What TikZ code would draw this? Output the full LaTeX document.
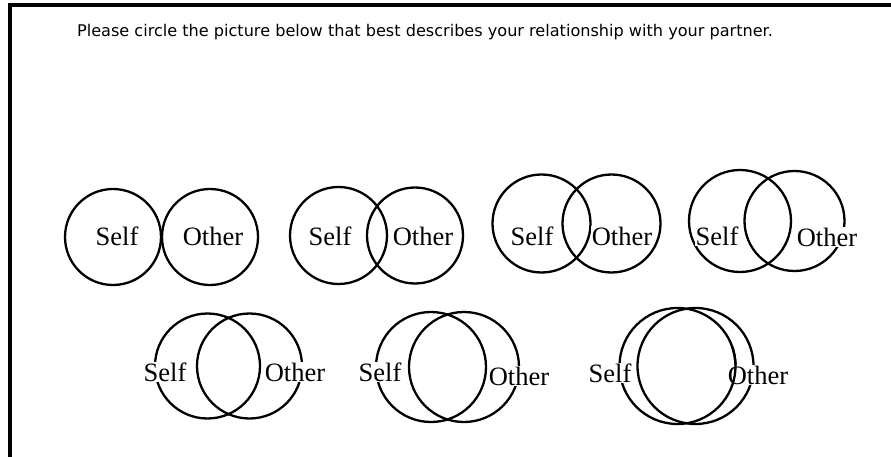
\documentclass[tikz,border=0pt]{standalone}
\usepackage{fontspec}
\setmainfont{Liberation Serif}
\newfontfamily\titlefont{DejaVu Sans}
\begin{document}
\begin{tikzpicture}[x=1pt,y=-1pt,
  ring/.style={draw=black,line width=2.3pt},
  lbl/.style={fill=white,inner sep=0.6pt,font=\fontsize{26.5}{30}\selectfont},
  frame/.style={draw=black,line width=3.4pt}]
\useasboundingbox (0,0) rectangle (891,457);
% frame (top and left)
\draw[frame] (10,457) -- (10,5) -- (891,5);
\node[font=\titlefont\fontsize{16.1}{19}\selectfont,anchor=base] (title) at (425,37) {Please circle the picture below that best describes your relationship with your partner.};
% row 1
\draw[ring] (113,237) circle[radius=48];
\draw[ring] (210,237) circle[radius=48];
\draw[ring] (338.5,235.5) circle[radius=48.5];
\draw[ring] (415,235.5) circle[radius=48];
\draw[ring] (541.5,223.5) circle[radius=49];
\draw[ring] (611.5,223.5) circle[radius=49];
\draw[ring] (740,221) circle[radius=51];
\draw[ring] (794.5,221) circle[radius=50];
% row 2
\draw[ring] (207.5,366) circle[radius=52.5];
\draw[ring] (249.5,366) circle[radius=52.5];
\draw[ring] (431,367) circle[radius=55];
\draw[ring] (464,367) circle[radius=55];
\draw[ring] (677.5,366) circle[radius=58];
\draw[ring] (695.5,366) circle[radius=58];
% labels
\node[lbl] (s1) at (117,236) {Self};
\node[lbl] (o1) at (213,236) {Other};
\node[lbl] (s2) at (330,236) {Self};
\node[lbl] (o2) at (423,236) {Other};
\node[lbl] (s3) at (532,236) {Self};
\node[lbl] (o3) at (622,236) {Other};
\node[lbl] (s4) at (717,236) {Self};
\node[lbl] (o4) at (827,237) {Other};
\node[lbl] (s5) at (165,372) {Self};
\node[lbl] (o5) at (295,372) {Other};
\node[lbl] (s6) at (380,372) {Self};
\node[lbl] (o6) at (519,376) {Other};
\node[lbl] (s7) at (610,373) {Self};
\node[lbl] (o7) at (758,375) {Other};
% left ring of last pair passes through the O of Other
\draw[ring] (677.5,366) ++(-20:58) arc[start angle=-20,end angle=20,radius=58];
\end{tikzpicture}
\end{document}
